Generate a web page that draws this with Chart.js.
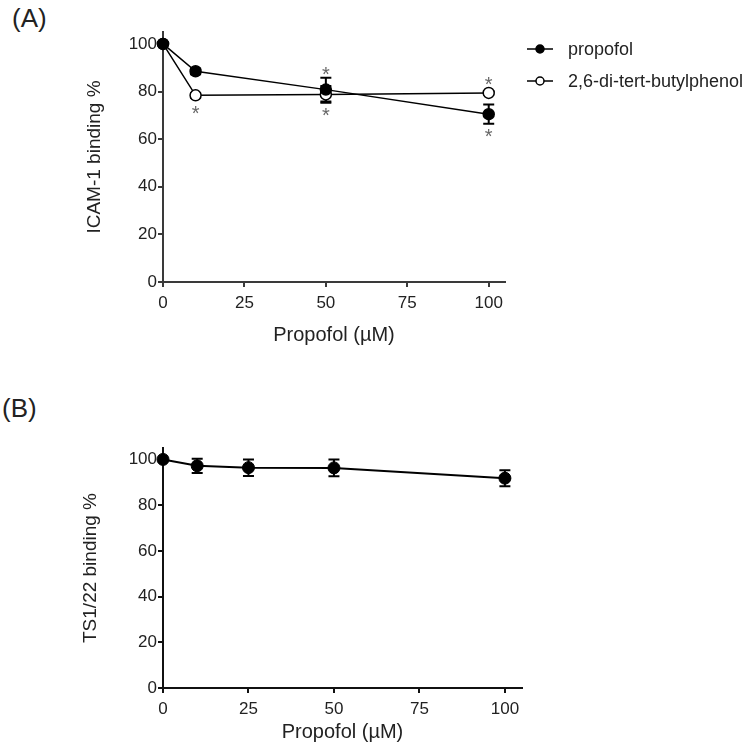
<!DOCTYPE html>
<html>
<head>
<meta charset="utf-8">
<script src="https://cdn.jsdelivr.net/npm/chart.js@4"></script>
<style>
body { margin: 0; background: #fff; width: 750px; height: 745px; position: relative; overflow: hidden; font-family: "Liberation Sans", Arial, sans-serif; }
.panel { position: absolute; font-size: 26px; line-height: 26px; color: #222; }
#chartA { position: absolute; left: 0; top: 0; }
#chartB { position: absolute; left: 0; top: 380px; }
</style>
</head>
<body>
<div class="panel" style="left:12px;top:5px">(A)</div>
<div class="panel" style="left:2px;top:395px">(B)</div>
<canvas id="chartA" width="750" height="360"></canvas>
<canvas id="chartB" width="750" height="365"></canvas>
<script>
// panel A: ICAM-1 binding
const dosesA = [0, 10, 50, 100]
const propofolA = [100, 88.5, 80.8, 70.5]
const propofolAErr = [0, 1.2, 5, 4]
const propofolAStars = ['', '', 'above', 'below']
const dtbpA = [100, 78.4, 78.8, 79.4]
const dtbpAErr = [0, 1, 3.5, 0.8]
const dtbpAStars = ['', 'below', 'below', 'above']

// panel B: TS1/22 binding
const dosesB = [0, 10, 25, 50, 100]
const ts122B = [100, 97.2, 96.4, 96.3, 91.8]
const ts122BErr = [0, 3.1, 3.6, 3.7, 3.5]

const xTicks = [0, 25, 50, 75, 100]
const yTicks = [0, 20, 40, 60, 80, 100]

const FONT = '"Liberation Sans", Arial, sans-serif'

function pts(xs, ys) {
    return xs.map((x, i) => ({ x: x, y: ys[i] }))
}

const errorBars = {
    id: 'errorBars',
    beforeDatasetsDraw(chart) {
        const ctx = chart.ctx
        const y = chart.scales.y
        chart.data.datasets.forEach((ds, i) => {
            if (!ds.errors) return
            const meta = chart.getDatasetMeta(i)
            ctx.save()
            ctx.strokeStyle = '#000'
            ctx.lineWidth = 2
            meta.data.forEach((pt, j) => {
                const e = ds.errors[j]
                if (!e) return
                const top = y.getPixelForValue(ds.data[j].y + e)
                const bot = y.getPixelForValue(ds.data[j].y - e)
                ctx.beginPath()
                ctx.moveTo(pt.x, top); ctx.lineTo(pt.x, bot)
                ctx.moveTo(pt.x - 5.5, top); ctx.lineTo(pt.x + 5.5, top)
                ctx.moveTo(pt.x - 5.5, bot); ctx.lineTo(pt.x + 5.5, bot)
                ctx.stroke()
            })
            ctx.restore()
        })
    }
}

const stars = {
    id: 'stars',
    afterDatasetsDraw(chart) {
        const ctx = chart.ctx
        const y = chart.scales.y
        ctx.save()
        ctx.fillStyle = '#666'
        ctx.font = '20px ' + FONT
        ctx.textAlign = 'center'
        ctx.textBaseline = 'alphabetic'
        chart.data.datasets.forEach((ds, i) => {
            if (!ds.stars) return
            const meta = chart.getDatasetMeta(i)
            meta.data.forEach((pt, j) => {
                const side = ds.stars[j]
                if (!side) return
                const e = ds.errors ? ds.errors[j] : 0
                const v = ds.data[j].y
                let cy
                if (side === 'above') {
                    cy = Math.min(y.getPixelForValue(v + e), pt.y - 5.5) - 8
                } else {
                    cy = Math.max(y.getPixelForValue(v - e), pt.y + 5.5) + 8
                }
                ctx.fillText('*', pt.x, cy + 11.5)
            })
        })
        ctx.restore()
    }
}

const legendA = {
    id: 'legendA',
    afterDraw(chart) {
        const ctx = chart.ctx
        ctx.save()
        chart.data.datasets.forEach((ds, i) => {
            const cy = 49 + i * 32
            ctx.strokeStyle = '#000'
            ctx.lineWidth = 1.5
            ctx.beginPath()
            ctx.moveTo(527, cy); ctx.lineTo(553, cy)
            ctx.stroke()
            ctx.beginPath()
            ctx.arc(540, cy, 4, 0, Math.PI * 2)
            ctx.fillStyle = ds.pointBackgroundColor
            ctx.fill()
            ctx.stroke()
            ctx.fillStyle = '#222'
            ctx.font = '18px ' + FONT
            ctx.textAlign = 'left'
            ctx.textBaseline = 'middle'
            ctx.fillText(ds.label, 568, cy + 1)
        })
        ctx.restore()
    }
}

function axes(axisColor, yTitle, yWidth, xHeight, xTitlePad) {
    const tickFont = { family: FONT, size: 17 }
    return {
        x: {
            type: 'linear', min: 0, max: 105,
            afterBuildTicks: s => { s.ticks = xTicks.map(v => ({ value: v })) },
            afterFit: s => { s.height = xHeight },
            border: { display: true, color: axisColor, width: 2 },
            grid: { drawOnChartArea: false, drawTicks: true, tickLength: 5, color: axisColor, lineWidth: 2 },
            ticks: { color: '#222', font: tickFont, padding: 6, maxRotation: 0 },
            title: { display: true, text: 'Propofol (µM)', color: '#222', font: { family: FONT, size: 20 }, padding: { top: 0, bottom: xTitlePad } }
        },
        y: {
            min: 0, max: 105,
            afterBuildTicks: s => { s.ticks = yTicks.map(v => ({ value: v })) },
            afterFit: s => { s.width = yWidth },
            border: { display: true, color: axisColor, width: 2 },
            grid: { drawOnChartArea: false, drawTicks: true, tickLength: 5, color: axisColor, lineWidth: 2 },
            ticks: { color: '#222', font: tickFont, padding: 1 },
            title: { display: true, text: yTitle, color: '#222', font: { family: FONT, size: 19 }, padding: { top: 4, bottom: 0 } }
        }
    }
}

new Chart(document.getElementById('chartA'), {
    type: 'line',
    data: {
        datasets: [{
            label: 'propofol',
            data: pts(dosesA, propofolA),
            errors: propofolAErr,
            stars: propofolAStars,
            borderColor: '#000',
            borderWidth: 1.5,
            pointBackgroundColor: '#000',
            pointBorderColor: '#000',
            pointRadius: 5.5,
            pointBorderWidth: 1.5,
            tension: 0,
            clip: false
        }, {
            label: '2,6-di-tert-butylphenol',
            data: pts(dosesA, dtbpA),
            errors: dtbpAErr,
            stars: dtbpAStars,
            borderColor: '#000',
            borderWidth: 1.5,
            pointBackgroundColor: '#fff',
            pointBorderColor: '#000',
            pointRadius: 5.5,
            pointBorderWidth: 1.5,
            tension: 0,
            clip: false
        }]
    },
    options: {
        responsive: false,
        animation: false,
        devicePixelRatio: 1,
        layout: { padding: { left: 79, right: 245, top: 32, bottom: 9 } },
        scales: axes('#3a3a3a', 'ICAM-1 binding %', 84, 69, 4),
        plugins: { legend: { display: false }, tooltip: { enabled: false } }
    },
    plugins: [errorBars, stars, legendA]
})

new Chart(document.getElementById('chartB'), {
    type: 'line',
    data: {
        datasets: [{
            label: 'propofol',
            data: pts(dosesB, ts122B),
            errors: ts122BErr,
            borderColor: '#000',
            borderWidth: 2,
            pointBackgroundColor: '#000',
            pointBorderColor: '#000',
            pointRadius: 6,
            pointBorderWidth: 1,
            tension: 0,
            clip: false
        }]
    },
    options: {
        responsive: false,
        animation: false,
        devicePixelRatio: 1,
        layout: { padding: { left: 75, right: 228, top: 68, bottom: 0 } },
        scales: axes('#111', 'TS1/22 binding %', 88, 57, 1),
        plugins: { legend: { display: false }, tooltip: { enabled: false } }
    },
    plugins: [errorBars]
})
</script>
</body>
</html>
